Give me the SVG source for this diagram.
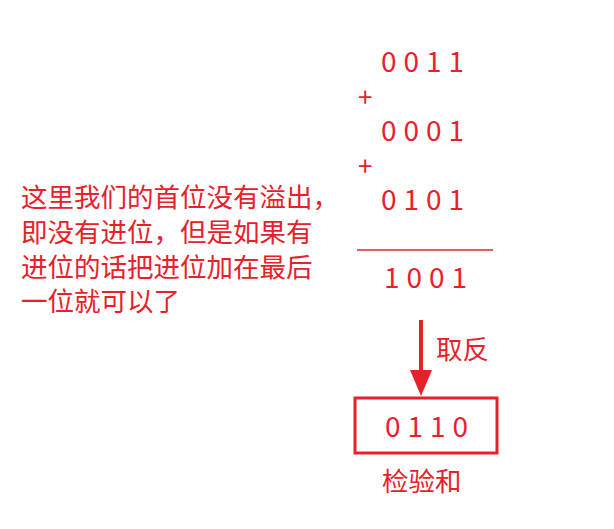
<svg xmlns="http://www.w3.org/2000/svg" width="614" height="529" viewBox="0 0 614 529">
<style>
text{fill:#e8202a;font-family:"Noto Sans CJK SC","Noto Sans",sans-serif}
.n{font-size:28px;letter-spacing:7px}
.c{font-size:26.5px}
</style>
<rect width="614" height="529" fill="#fff"/>
<g id="note"><text class="c" x="21" y="207">这里我们的首位没有溢出，</text><text class="c" x="21" y="242">即没有进位，但是如果有</text><text class="c" x="21" y="277">进位的话把进位加在最后</text><text class="c" x="21" y="311">一位就可以了</text></g>
<g id="sum">
<text class="n" x="381" y="72">0011</text>
<text class="n" x="358" y="107" style="font-size:26px">+</text>
<text class="n" x="381" y="141">0001</text>
<text class="n" x="358" y="176" style="font-size:26px">+</text>
<text class="n" x="381" y="210">0101</text>
<line x1="357" y1="250" x2="493" y2="250" stroke="#e8202a" stroke-width="1.5"/>
<text class="n" x="384" y="288">1001</text>
</g>
<g id="connectors"><line x1="421" y1="320" x2="421" y2="372" stroke="#e8202a" stroke-width="4"/><path d="M410,370L432,370L421,396z" fill="#e8202a"/></g>
<text class="c" x="436" y="359">取反</text>
<g id="checksum"><rect x="355" y="398" width="142" height="55" fill="none" stroke="#e8202a" stroke-width="3"/><text class="n" x="385" y="437">0110</text><text class="c" x="382" y="491">检验和</text></g>
</svg>
